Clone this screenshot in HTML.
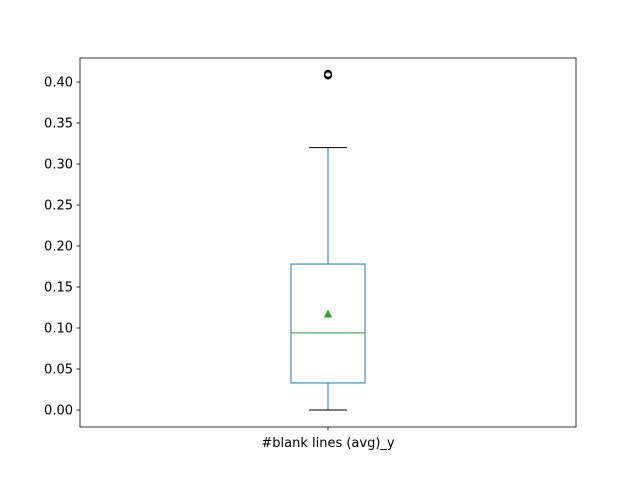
<!DOCTYPE html>
<html><head><meta charset="utf-8"><style>
html,body{margin:0;padding:0;background:#fff;}
svg{display:block;font-family:"DejaVu Sans","Liberation Sans",sans-serif;}
</style></head><body>
<svg id="chart" width="640" height="480"></svg>
<script>
const categories = ["#blank lines (avg)_y"];
const q1Values = [0.033];
const medianValues = [0.094];
const q3Values = [0.178];
const meanValues = [0.117];
const whiskerLow = [0.0];
const whiskerHigh = [0.32];
const outlierValues = [[0.409, 0.409, 0.408, 0.41]];
const yTicks = [0, 0.05, 0.1, 0.15, 0.2, 0.25, 0.3, 0.35, 0.4];
const yTickLabels = ["0.00","0.05","0.10","0.15","0.20","0.25","0.30","0.35","0.40"];

const L=80,R=576,T=58,B=427;
const y0px=410, pxPerUnit=820;
const y = v => y0px - v*pxPerUnit;
const x = i => L + (R-L)*(i+0.5)/categories.length;
const NS="http://www.w3.org/2000/svg";
const svg=document.getElementById('chart');
function mk(tag, attrs){const e=document.createElementNS(NS,tag);for(const k in attrs)e.setAttribute(k,attrs[k]);svg.appendChild(e);return e;}

yTicks.forEach((t,i)=>{
  const g=mk('line',{x1:L-3.5,x2:L,y1:y(t),y2:y(t),stroke:'#000','stroke-width':0.8});
  
  
  const tx=mk('text',{x:L-7,y:y(t)+4.5,'text-anchor':'end','font-size':'13px',fill:'#000'});
  tx.textContent=yTickLabels[i];
  
  
});

categories.forEach((c,i)=>{
  const cx=x(i), hw=37, cw=19;
  const wl=mk('line',{x1:cx,x2:cx,y1:y(q1Values[i]),y2:y(whiskerLow[i]),stroke:'#1f77b4','stroke-width':1});
  
  
  const wh=mk('line',{x1:cx,x2:cx,y1:y(q3Values[i]),y2:y(whiskerHigh[i]),stroke:'#1f77b4','stroke-width':1});
  
  
  const cl=mk('line',{x1:cx-cw,x2:cx+cw,y1:y(whiskerLow[i]),y2:y(whiskerLow[i]),stroke:'#000','stroke-width':1});
  
  
  const ch=mk('line',{x1:cx-cw,x2:cx+cw,y1:y(whiskerHigh[i]),y2:y(whiskerHigh[i]),stroke:'#000','stroke-width':1});
  
  
  const bx=mk('rect',{x:cx-hw,y:y(q3Values[i]),width:hw*2,height:y(q1Values[i])-y(q3Values[i]),fill:'none',stroke:'#1f77b4','stroke-width':1});
  
  
  const md=mk('line',{x1:cx-hw,x2:cx+hw,y1:y(medianValues[i]),y2:y(medianValues[i]),stroke:'#2ca02c','stroke-width':1});
  
  
  const my=y(meanValues[i]);
  const mn=mk('polygon',{points:`${cx},${my-4.5} ${cx-4},${my+3.5} ${cx+4},${my+3.5}`,fill:'#2ca02c'});
  
  
  outlierValues[i].forEach(v=>{
    const o=mk('circle',{cx:cx,cy:y(v),r:3.5,fill:'none',stroke:'#000','stroke-width':1});
    
    
  });
  const xt=mk('line',{x1:cx,x2:cx,y1:B,y2:B+3.5,stroke:'#000','stroke-width':0.8});
  
  
  const xl=mk('text',{x:cx,y:B+20,'text-anchor':'middle','font-size':'13px',fill:'#000'});
  xl.textContent=c;
  
  
});

const fr=mk('rect',{x:L,y:T,width:R-L,height:B-T,fill:'none',stroke:'#000','stroke-width':0.8});


</script>
</body></html>
